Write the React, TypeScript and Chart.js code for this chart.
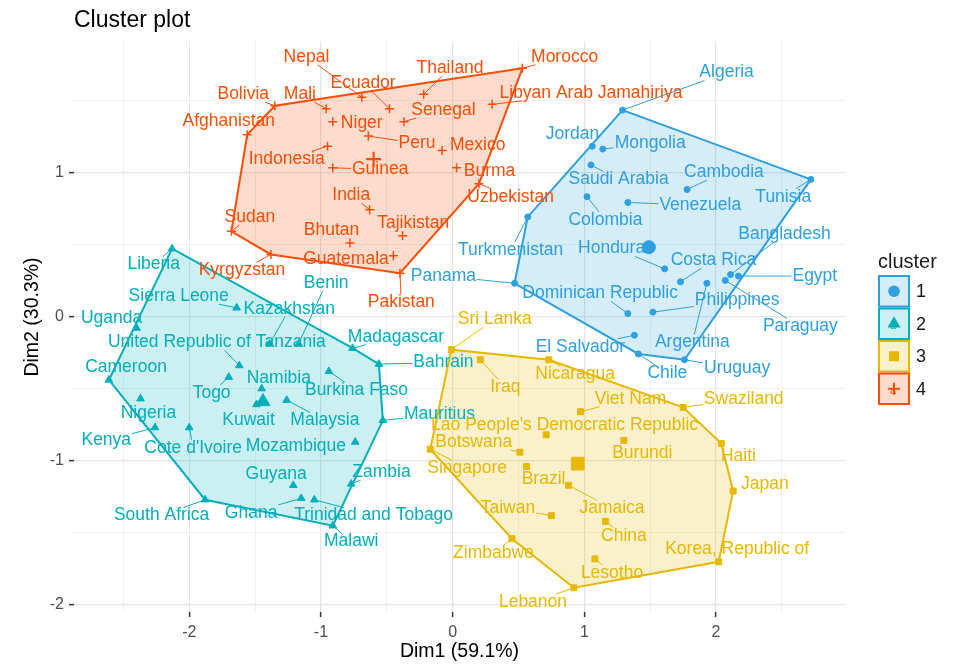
import React, { useEffect, useRef } from "react";
import { Chart, registerables } from "chart.js";

Chart.register(...registerables);

const FONT = "'Liberation Sans', Arial, Helvetica, sans-serif";

const clusterIds = ["1", "2", "3", "4"];
const clusterColors = ["#2E9FDF", "#00AFBB", "#E7B800", "#FC4E07"];
const clusterShapes = ["circle", "triangle", "rect", "cross"];

// Cluster 1 (blue)
const names1 = ["Algeria", "Jordan", "Mongolia", "Saudi Arabia", "Colombia", "Venezuela", "Cambodia", "Tunisia", "Turkmenistan", "Honduras", "Costa Rica", "Argentina", "Paraguay", "Bangladesh", "Egypt", "Dominican Republic", "Philippines", "El Salvador", "Chile", "Uruguay", "Panama"];
const x1 = [1.29, 1.06, 1.14, 1.05, 1.02, 1.33, 1.78, 2.72, 0.57, 1.61, 1.73, 1.93, 2.07, 2.11, 2.17, 1.33, 1.52, 1.38, 1.41, 1.76, 0.47];
const y1 = [1.43, 1.18, 1.16, 1.05, 0.83, 0.79, 0.88, 0.95, 0.69, 0.33, 0.24, 0.23, 0.25, 0.29, 0.28, 0.02, 0.03, -0.13, -0.26, -0.30, 0.23];
const lx1 = [2.08, 0.91, 1.50, 1.26, 1.16, 1.88, 2.06, 2.51, 0.44, 1.24, 1.98, 1.82, 2.64, 2.52, 2.75, 1.12, 2.16, 0.97, 1.63, 2.16, -0.07];
const ly1 = [1.69, 1.26, 1.20, 0.95, 0.67, 0.77, 1.00, 0.83, 0.46, 0.47, 0.39, -0.18, -0.07, 0.57, 0.28, 0.16, 0.11, -0.21, -0.39, -0.36, 0.28];

// Cluster 2 (teal)
const names2 = ["Liberia", "Sierra Leone", "Kazakhstan", "Benin", "Uganda", "United Republic of Tanzania", "Cameroon", "Togo", "Namibia", "Kuwait", "Malaysia", "Burkina Faso", "Madagascar", "Bahrain", "Mauritius", "Nigeria", "Kenya", "Cote d'Ivoire", "Mozambique", "Guyana", "Zambia", "South Africa", "Ghana", "Trinidad and Tobago", "Malawi"];
const x2 = [-2.13, -1.64, -1.39, -1.17, -2.40, -1.62, -2.61, -1.70, -1.45, -1.49, -1.26, -0.94, -0.76, -0.56, -0.53, -2.37, -2.26, -2.00, -0.74, -1.21, -0.77, -1.88, -1.15, -1.05, -0.91];
const y2 = [0.47, 0.06, -0.19, -0.19, -0.08, -0.34, -0.44, -0.42, -0.50, -0.61, -0.58, -0.38, -0.22, -0.33, -0.72, -0.57, -0.77, -0.77, -0.87, -1.17, -1.16, -1.27, -1.26, -1.27, -1.45];
const lx2 = [-2.27, -2.08, -1.24, -0.96, -2.59, -1.79, -2.48, -1.83, -1.32, -1.55, -0.97, -0.73, -0.43, -0.07, -0.10, -2.31, -2.63, -1.97, -1.19, -1.34, -0.54, -2.21, -1.53, -0.60, -0.77];
const ly2 = [0.36, 0.14, 0.05, 0.23, -0.01, -0.18, -0.35, -0.53, -0.43, -0.72, -0.72, -0.51, -0.14, -0.32, -0.68, -0.67, -0.86, -0.91, -0.90, -1.09, -1.08, -1.38, -1.36, -1.38, -1.56];

// Cluster 3 (yellow)
const names3 = ["Sri Lanka", "Iraq", "Nicaragua", "Viet Nam", "Swaziland", "Lao People's Democratic Republic", "Burundi", "Haiti", "Botswana", "Singapore", "Brazil", "Jamaica", "Japan", "Taiwan", "China", "Zimbabwe", "Lesotho", "Korea, Republic of", "Lebanon"];
const x3 = [-0.01, 0.21, 0.73, 0.97, 1.75, 0.71, 1.30, 2.04, 0.51, -0.17, 0.56, 0.88, 2.13, 0.75, 1.16, 0.45, 1.08, 2.02, 0.92];
const y3 = [-0.23, -0.30, -0.30, -0.66, -0.63, -0.82, -0.86, -0.88, -0.94, -0.92, -1.04, -1.17, -1.21, -1.38, -1.42, -1.54, -1.68, -1.70, -1.88];
const lx3 = [0.32, 0.40, 0.93, 1.35, 2.21, 0.85, 1.44, 2.17, 0.16, 0.11, 0.69, 1.21, 2.37, 0.42, 1.30, 0.31, 1.21, 2.16, 0.61];
const ly3 = [-0.02, -0.49, -0.40, -0.57, -0.57, -0.75, -0.95, -0.97, -0.87, -1.05, -1.13, -1.33, -1.16, -1.33, -1.52, -1.64, -1.78, -1.61, -1.98];

// Cluster 4 (red)
const names4 = ["Bolivia", "Mali", "Afghanistan", "Nepal", "Ecuador", "Thailand", "Morocco", "Libyan Arab Jamahiriya", "Senegal", "Niger", "Peru", "Indonesia", "Guinea", "Mexico", "Burma", "Uzbekistan", "India", "Tajikistan", "Sudan", "Bhutan", "Guatemala", "Kyrgyzstan", "Pakistan"];
const x4 = [-1.35, -0.96, -1.56, -0.69, -0.48, -0.22, 0.53, 0.30, -0.37, -0.91, -0.64, -0.95, -0.91, -0.08, 0.03, 0.20, -0.63, -0.38, -1.68, -0.78, -0.45, -1.38, -0.40];
const y4 = [1.46, 1.44, 1.26, 1.52, 1.44, 1.54, 1.72, 1.47, 1.35, 1.35, 1.25, 1.18, 1.03, 1.15, 1.03, 0.92, 0.74, 0.56, 0.59, 0.51, 0.42, 0.43, 0.30];
const lx4 = [-1.59, -1.16, -1.70, -1.11, -0.68, -0.02, 0.85, 1.05, -0.07, -0.69, -0.27, -1.26, -0.55, 0.19, 0.28, 0.44, -0.77, -0.30, -1.54, -0.92, -0.81, -1.60, -0.39];
const ly4 = [1.54, 1.54, 1.35, 1.80, 1.62, 1.72, 1.80, 1.55, 1.43, 1.34, 1.20, 1.09, 1.02, 1.19, 1.01, 0.83, 0.84, 0.65, 0.69, 0.60, 0.40, 0.32, 0.10];

// Cluster centres
const centerX = [1.49, -1.44, 0.95, -0.60];
const centerY = [0.48, -0.59, -1.02, 1.09];

// Axes
const xTicks = [-2.5, -2, -1.5, -1, -0.5, 0, 0.5, 1, 1.5, 2, 2.5];
const yTicks = [-2, -1.5, -1, -0.5, 0, 0.5, 1, 1.5];
const xRange = [-2.875, 2.979];
const yRange = [-2.048, 1.909];

const titleText = "Cluster plot";
const xTitle = "Dim1 (59.1%)";
const yTitle = "Dim2 (30.3%)";
const legendTitle = "cluster";

const clusters = [
  { names: names1, x: x1, y: y1, lx: lx1, ly: ly1 },
  { names: names2, x: x2, y: y2, lx: lx2, ly: ly2 },
  { names: names3, x: x3, y: y3, lx: lx3, ly: ly3 },
  { names: names4, x: x4, y: y4, lx: lx4, ly: ly4 },
];

const pointRadii = [3, 4.4, 4.2, 4.5];
const centerRadii = [6.5, 8, 9, 7.5];

type P = { x: number; y: number };

function convexHull(pts: P[]): P[] {
  const p = pts.slice().sort((a, b) => (a.x === b.x ? a.y - b.y : a.x - b.x));
  const cross = (o: P, a: P, b: P) => (a.x - o.x) * (b.y - o.y) - (a.y - o.y) * (b.x - o.x);
  const lower: P[] = [];
  for (const q of p) {
    while (lower.length >= 2 && cross(lower[lower.length - 2], lower[lower.length - 1], q) <= 0) lower.pop();
    lower.push(q);
  }
  const upper: P[] = [];
  for (let i = p.length - 1; i >= 0; i--) {
    const q = p[i];
    while (upper.length >= 2 && cross(upper[upper.length - 2], upper[upper.length - 1], q) <= 0) upper.pop();
    upper.push(q);
  }
  upper.pop();
  lower.pop();
  return lower.concat(upper);
}

const isInt = (v: number) => Math.abs(v - Math.round(v)) < 1e-9;

function drawSymbol(ctx: CanvasRenderingContext2D, shape: string, cx: number, cy: number, r: number, color: string) {
  ctx.save();
  ctx.fillStyle = color;
  ctx.strokeStyle = color;
  if (shape === "circle") {
    ctx.beginPath();
    ctx.arc(cx, cy, r, 0, Math.PI * 2);
    ctx.fill();
  } else if (shape === "triangle") {
    ctx.beginPath();
    ctx.moveTo(cx, cy - r);
    ctx.lineTo(cx + r * Math.sin((2 * Math.PI) / 3), cy + r / 2);
    ctx.lineTo(cx - r * Math.sin((2 * Math.PI) / 3), cy + r / 2);
    ctx.closePath();
    ctx.fill();
  } else if (shape === "rect") {
    ctx.fillRect(cx - r, cy - r, 2 * r, 2 * r);
  } else {
    ctx.lineWidth = 2;
    ctx.beginPath();
    ctx.moveTo(cx - r, cy);
    ctx.lineTo(cx + r, cy);
    ctx.moveTo(cx, cy - r);
    ctx.lineTo(cx, cy + r);
    ctx.stroke();
  }
  ctx.restore();
}

const overlayPlugin = {
  id: "overlay",
  afterDatasetDraw(chart: any, args: any) {
    if (args.index !== 4) return;
    const ctx: CanvasRenderingContext2D = chart.ctx;
    const xs = chart.scales.x;
    const ys = chart.scales.y;
    ctx.save();
    ctx.font = `17.5px ${FONT}`;
    ctx.textAlign = "center";
    ctx.textBaseline = "middle";
    // segments
    clusters.forEach((c, ci) => {
      c.names.forEach((name, i) => {
        const px = xs.getPixelForValue(c.x[i]);
        const py = ys.getPixelForValue(c.y[i]);
        const lx = xs.getPixelForValue(c.lx[i]);
        const ly = ys.getPixelForValue(c.ly[i]);
        const hw = ctx.measureText(name).width / 2 + 1;
        const hh = 8;
        const dx = px - lx;
        const dy = py - ly;
        let t = 1;
        if (dx !== 0) t = Math.min(t, hw / Math.abs(dx));
        if (dy !== 0) t = Math.min(t, hh / Math.abs(dy));
        const ex = lx + dx * t;
        const ey = ly + dy * t;
        const dist = Math.hypot(px - ex, py - ey);
        if (t < 1 && dist > 9) {
          ctx.strokeStyle = clusterColors[ci];
          ctx.lineWidth = 1;
          ctx.beginPath();
          ctx.moveTo(px, py);
          ctx.lineTo(ex, ey);
          ctx.stroke();
        }
      });
    });
    // texts
    clusters.forEach((c, ci) => {
      ctx.fillStyle = clusterColors[ci];
      c.names.forEach((name, i) => {
        ctx.fillText(name, xs.getPixelForValue(c.lx[i]), ys.getPixelForValue(c.ly[i]));
      });
    });
    ctx.restore();
  },
  afterDraw(chart: any) {
    const ctx: CanvasRenderingContext2D = chart.ctx;
    const area = chart.chartArea;
    ctx.save();
    // title
    ctx.fillStyle = "#000000";
    ctx.font = `23px ${FONT}`;
    ctx.textAlign = "left";
    ctx.textBaseline = "alphabetic";
    ctx.fillText(titleText, area.left, 27);
    // axis titles
    ctx.font = `19.5px ${FONT}`;
    ctx.textAlign = "center";
    ctx.textBaseline = "middle";
    ctx.fillText(xTitle, (area.left + area.right) / 2, 652);
    ctx.save();
    ctx.translate(33, 317);
    ctx.rotate(-Math.PI / 2);
    ctx.fillText(yTitle, 0, 0);
    ctx.restore();
    // legend
    ctx.fillStyle = "#1a1a1a";
    ctx.textAlign = "left";
    ctx.font = `20px ${FONT}`;
    ctx.fillText(legendTitle, 878, 262);
    const keyX = 879;
    const keyW = 30;
    const keyH = 30.5;
    const keyTops = [276, 308.5, 341, 373.5];
    clusterIds.forEach((id, i) => {
      const top = keyTops[i];
      ctx.fillStyle = clusterColors[i] + "33";
      ctx.fillRect(keyX, top, keyW, keyH);
      ctx.strokeStyle = clusterColors[i];
      ctx.lineWidth = 2;
      ctx.strokeRect(keyX, top, keyW, keyH);
      const cx = keyX + keyW / 2;
      const cy = top + keyH / 2;
      ctx.fillStyle = clusterColors[i];
      ctx.font = `11px ${FONT}`;
      ctx.textAlign = "center";
      ctx.fillText("a", cx - 1, cy + 2);
      const rr = [5.8, 7.5, 5, 6][i];
      drawSymbol(ctx, clusterShapes[i], cx, cy, rr, clusterColors[i]);
      ctx.fillStyle = "#1a1a1a";
      ctx.font = `18px ${FONT}`;
      ctx.textAlign = "left";
      ctx.fillText(id, 916, cy + 1);
    });
    ctx.restore();
  },
};

export default function App() {
  const ref = useRef<HTMLCanvasElement>(null);
  useEffect(() => {
    const canvas = ref.current;
    if (!canvas) return;
    const datasets: any[] = [];
    clusters.forEach((c, i) => {
      datasets.push({
        type: "scatter",
        data: [{ x: centerX[i], y: centerY[i] }],
        pointStyle: clusterShapes[i],
        pointRadius: centerRadii[i],
        backgroundColor: clusterColors[i],
        borderColor: clusterColors[i],
        borderWidth: i === 3 ? 2.2 : 1,
        showLine: false,
      });
    });
    clusters.forEach((c, i) => {
      datasets.push({
        type: "scatter",
        data: c.x.map((x, k) => ({ x, y: c.y[k] })),
        pointStyle: clusterShapes[i],
        pointRadius: pointRadii[i],
        backgroundColor: clusterColors[i],
        borderColor: clusterColors[i],
        borderWidth: i === 3 ? 1.5 : 1,
        showLine: false,
      });
    });
    clusters.forEach((c, i) => {
      const hull = convexHull(c.x.map((x, k) => ({ x, y: c.y[k] })));
      hull.push(hull[0]);
      datasets.push({
        type: "line",
        data: hull,
        borderColor: clusterColors[i],
        borderWidth: 2,
        backgroundColor: clusterColors[i] + "33",
        fill: "shape",
        pointRadius: 0,
        tension: 0,
      });
    });

    const gridOpts = {
      color: (ctx: any) => (ctx.tick && isInt(ctx.tick.value) ? "#e4e4e4" : "#eeeeee"),
      lineWidth: (ctx: any) => (ctx.tick && isInt(ctx.tick.value) ? 1.2 : 0.8),
      tickColor: (ctx: any) => (ctx.tick && isInt(ctx.tick.value) ? "#333333" : "rgba(0,0,0,0)"),
      tickLength: 5,
      tickWidth: 1.5,
      drawTicks: true,
    };
    const tickOpts = {
      callback: (v: any) => (isInt(Number(v)) ? String(Math.round(Number(v))) : ""),
      font: { size: 16, family: FONT },
      color: "#4d4d4d",
      autoSkip: false,
      maxRotation: 0,
    };

    const chart = new Chart(canvas, {
      type: "scatter",
      data: { datasets },
      options: {
        animation: false,
        responsive: false,
        events: [],
        layout: { padding: { left: 0, top: 41, right: 109, bottom: 0 } },
        plugins: {
          legend: { display: false },
          title: { display: false },
          tooltip: { enabled: false },
        },
        scales: {
          x: {
            type: "linear",
            min: xRange[0],
            max: xRange[1],
            afterBuildTicks: (s: any) => {
              s.ticks = xTicks.map((v) => ({ value: v }));
            },
            afterFit: (s: any) => {
              s.height = 53;
            },
            grid: gridOpts,
            border: { display: false },
            ticks: { ...tickOpts, padding: 6 },
          },
          y: {
            type: "linear",
            min: yRange[0],
            max: yRange[1],
            afterBuildTicks: (s: any) => {
              s.ticks = yTicks.map((v) => ({ value: v }));
            },
            afterFit: (s: any) => {
              s.width = 74;
            },
            grid: gridOpts,
            border: { display: false },
            ticks: { ...tickOpts, padding: 5 },
          },
        },
      } as any,
      plugins: [overlayPlugin as any],
    });
    return () => chart.destroy();
  }, []);

  return (
    <div style={{ position: "absolute", left: 0, top: 0, width: 954, height: 665, background: "#ffffff" }}>
      <canvas ref={ref} width={954} height={665} style={{ display: "block" }} />
    </div>
  );
}
